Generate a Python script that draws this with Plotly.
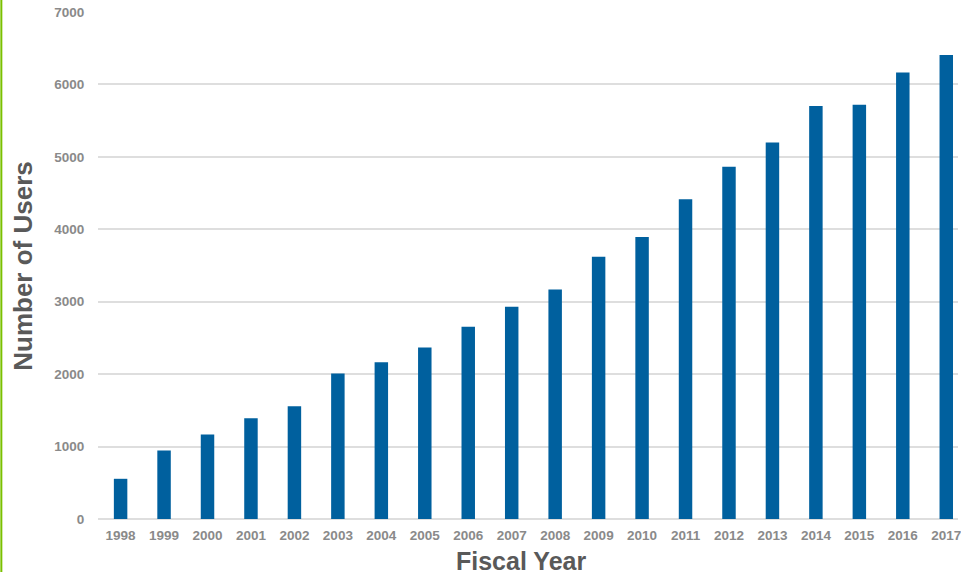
import plotly.graph_objects as go

years = [str(y) for y in range(1998, 2018)]
users = [555, 945, 1165, 1390, 1556, 2010, 2165, 2368, 2653, 2930,
         3170, 3621, 3893, 4415, 4862, 5198, 5701, 5719, 6166, 6407]
y_ticks = [0, 1000, 2000, 3000, 4000, 5000, 6000, 7000]

W, H = 961, 572
ML, MR, MT, MB = 98, 0, 12, 53
PW = W - ML - MR

bar_color = "#00609E"
tick_color = "#8A8A8A"
title_color = "#595959"
grid_color = "#DEDEDE"

fig = go.Figure(go.Bar(x=years, y=users, marker=dict(color=bar_color, line=dict(width=0))))

fig.update_layout(
    width=W, height=H,
    margin=dict(l=ML, r=MR, t=MT, b=MB, pad=0),
    paper_bgcolor="white", plot_bgcolor="white",
    bargap=0.69,
    showlegend=False,
    font=dict(family="Liberation Sans, Arial, sans-serif"),
)
fig.update_xaxes(
    type="category",
    range=[-0.52, 19.27],
    showgrid=False, zeroline=False, showline=False,
    ticks="outside", ticklen=4, tickcolor="rgba(0,0,0,0)",
    tickfont=dict(size=13.5, color=tick_color, family="Liberation Sans, Arial, sans-serif", weight="bold"),
    ticklabeloverflow="allow",
)
fig.update_yaxes(
    range=[0, 7000],
    tickvals=y_ticks,
    showgrid=True, gridcolor=grid_color, gridwidth=2,
    zeroline=True, zerolinecolor=grid_color, zerolinewidth=2,
    showline=False,
    ticks="outside", ticklen=10, tickcolor="rgba(0,0,0,0)",
    tickfont=dict(size=13.5, color=tick_color, family="Liberation Sans, Arial, sans-serif", weight="bold"),
)

fig.add_annotation(
    text="<b>Fiscal Year</b>", xref="paper", yref="paper",
    x=(522 - ML) / PW, y=-(561 - (H - MB)) / (H - MT - MB),
    xanchor="center", yanchor="middle", showarrow=False,
    font=dict(size=25, color=title_color, family="Liberation Sans, Arial, sans-serif"),
)
fig.add_annotation(
    text="<b>Number of Users</b>", xref="paper", yref="paper",
    x=-(ML - 22) / PW, y=0.5, textangle=-90,
    xanchor="center", yanchor="middle", showarrow=False,
    font=dict(size=26, color=title_color, family="Liberation Sans, Arial, sans-serif"),
)
fig.add_shape(
    type="line", xref="paper", yref="paper",
    x0=-(ML - 1) / PW, x1=-(ML - 1) / PW, y0=-MB / (H - MT - MB), y1=1 + MT / (H - MT - MB),
    line=dict(color="#7AC000", width=2),
)

fig.write_html("out.html")
